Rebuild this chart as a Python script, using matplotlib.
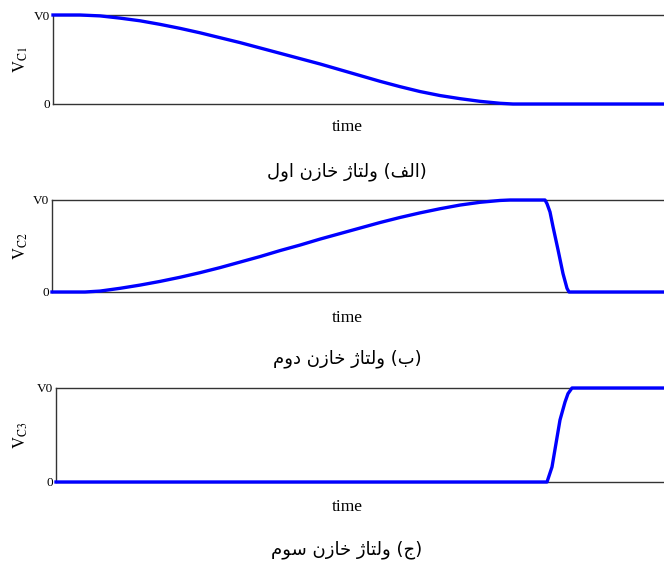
import matplotlib
matplotlib.use("Agg")
import matplotlib.pyplot as plt

plt.rcParams["mathtext.fontset"] = "stix"

# time axis samples (arbitrary units across each panel) and normalised voltages
t_c1 = [0, 27, 47, 67, 87, 107, 127, 147, 167, 187, 207, 227, 247, 267, 287,
        307, 327, 347, 367, 387, 407, 427, 447, 460, 612]
v_c1 = [1.0, 1.0, 0.99, 0.965, 0.935, 0.895, 0.85, 0.80, 0.745, 0.69, 0.63,
        0.57, 0.51, 0.45, 0.385, 0.32, 0.255, 0.195, 0.14, 0.095, 0.06, 0.03,
        0.008, 0.0, 0.0]

t_c2 = [0, 33, 48, 68, 88, 108, 128, 148, 168, 188, 208, 228, 248, 268, 288,
        308, 328, 348, 368, 388, 408, 428, 448, 458, 493, 495, 498, 501, 506,
        511, 515, 517, 612]
v_c2 = [0.0, 0.0, 0.01, 0.04, 0.075, 0.115, 0.16, 0.21, 0.265, 0.325, 0.385,
        0.45, 0.51, 0.575, 0.635, 0.695, 0.755, 0.81, 0.86, 0.905, 0.945,
        0.975, 0.995, 1.0, 1.0, 0.96, 0.87, 0.71, 0.46, 0.20, 0.04, 0.0, 0.0]

t_c3 = [0, 491, 496, 500, 504, 509, 512, 516, 608]
v_c3 = [0.0, 0.0, 0.16, 0.41, 0.66, 0.85, 0.94, 1.0, 1.0]

y_ticklabels = ["0", "V0"]
y_labels = [r"$\mathrm{V}_{\mathrm{C1}}$", r"$\mathrm{V}_{\mathrm{C2}}$", r"$\mathrm{V}_{\mathrm{C3}}$"]
x_label = "time"
captions = ["(الف) ولتاژ خازن اول", "(ب) ولتاژ خازن دوم", "(ج) ولتاژ خازن سوم"]


# --- minimal Arabic-script shaping (contextual forms + right-to-left order) ---
FORMS = {  # isolated, final, initial, medial
    "ا": ("\uFE8D", "\uFE8E", None, None),
    "ب": ("\uFE8F", "\uFE90", "\uFE91", "\uFE92"),
    "ت": ("\uFE95", "\uFE96", "\uFE97", "\uFE98"),
    "ج": ("\uFE9D", "\uFE9E", "\uFE9F", "\uFEA0"),
    "خ": ("\uFEA5", "\uFEA6", "\uFEA7", "\uFEA8"),
    "د": ("\uFEA9", "\uFEAA", None, None),
    "ز": ("\uFEAF", "\uFEB0", None, None),
    "ژ": ("\u0698", "\uFB8B", None, None),
    "س": ("\uFEB1", "\uFEB2", "\uFEB3", "\uFEB4"),
    "ف": ("\uFED1", "\uFED2", "\uFED3", "\uFED4"),
    "ل": ("\uFEDD", "\uFEDE", "\uFEDF", "\uFEE0"),
    "م": ("\uFEE1", "\uFEE2", "\uFEE3", "\uFEE4"),
    "ن": ("\uFEE5", "\uFEE6", "\uFEE7", "\uFEE8"),
    "و": ("\uFEED", "\uFEEE", None, None),
}
MIRROR = {"(": ")", ")": "("}


def dual(c):
    return c in FORMS and FORMS[c][2] is not None


def shape(text):
    out = []
    for i, c in enumerate(text):
        if c not in FORMS:
            out.append(MIRROR.get(c, c))
            continue
        prev_c = text[i - 1] if i > 0 else ""
        next_c = text[i + 1] if i + 1 < len(text) else ""
        join_prev = dual(prev_c)
        join_next = dual(c) and next_c in FORMS
        iso, fin, ini, med = FORMS[c]
        if join_prev and join_next:
            out.append(med)
        elif join_prev:
            out.append(fin)
        elif join_next:
            out.append(ini)
        else:
            out.append(iso)
    return "".join(reversed(out))


W, H = 664, 563
fig = plt.figure(figsize=(W / 100, H / 100), dpi=100)

# pixel boxes: left, top, bottom
boxes = [(53, 15, 104), (52, 200, 292), (56, 388, 482)]
series = [(t_c1, v_c1), (t_c2, v_c2), (t_c3, v_c3)]
time_y = [127, 318, 507]
caption_y = [172, 359, 550]

for k, ((left, top, bottom), (t, v)) in enumerate(zip(boxes, series)):
    ax = fig.add_axes([left / W, 1 - bottom / H, (W - left) / W, (bottom - top) / H])
    ax.plot(t, v, color="#0000ff", lw=2.4, clip_on=False, zorder=5,
            solid_joinstyle="round")
    ax.set_xlim(0, W - left)
    ax.set_ylim(0, 1)
    ax.set_xticks([])
    ax.set_yticks([0, 1])
    ax.set_yticklabels(y_ticklabels, fontfamily="Liberation Serif", fontsize=9.5)
    ax.tick_params(axis="y", length=0, pad=2)
    ax.spines["right"].set_visible(False)
    for s in ("left", "top", "bottom"):
        ax.spines[s].set_color("#333333")
        ax.spines[s].set_linewidth(1.0)

    fig.text(21 / W, 1 - (top + bottom) / 2 / H, y_labels[k], rotation=90,
             ha="center", va="center", fontsize=12)
    fig.text(347 / W, 1 - time_y[k] / H, x_label, ha="center", va="center",
             fontfamily="Liberation Serif", fontsize=12.5)
    fig.text(347 / W, 1 - caption_y[k] / H, shape(captions[k]), ha="center",
             va="center", fontfamily="DejaVu Sans", fontsize=13)

fig.savefig("out.png", dpi=100)
